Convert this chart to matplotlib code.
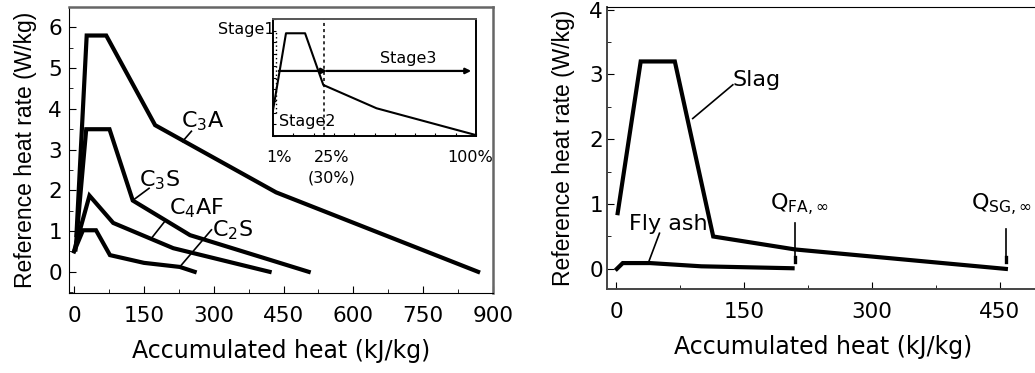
import matplotlib
matplotlib.use("Agg")
import matplotlib.pyplot as plt
from matplotlib.ticker import MultipleLocator

plt.rcParams['font.family'] = ['DejaVu Sans']

# left panel: clinker minerals (accumulated heat kJ/kg, heat rate W/kg)
c3a_q = [5, 27, 69, 174, 434, 868]
c3a_r = [0.9, 5.8, 5.8, 3.6, 1.95, 0.0]
c3s_q = [3, 26, 76, 126, 249, 504]
c3s_r = [0.55, 3.5, 3.5, 1.75, 0.9, 0.0]
c4af_q = [1, 33, 84, 213, 420]
c4af_r = [0.55, 1.87, 1.2, 0.58, 0.0]
c2s_q = [0, 19, 47, 77, 150, 227, 259]
c2s_r = [0.5, 1.02, 1.02, 0.41, 0.22, 0.12, 0.0]

# inset: normalised stage sketch (fraction of Q, fraction of height)
stage_x = [0.0, 0.064, 0.158, 0.248, 0.51, 0.995]
stage_y = [0.22, 0.878, 0.878, 0.436, 0.237, 0.01]

# right panel: slag and fly ash
slag_q = [2, 29, 69, 114, 210, 457]
slag_r = [0.86, 3.2, 3.2, 0.5, 0.3, 0.0]
fa_q = [1, 8, 40, 100, 207]
fa_r = [0.0, 0.09, 0.09, 0.04, 0.01]
q_fa = 210
q_sg = 457

W, H = 1035, 373
fig = plt.figure(figsize=(W / 100, H / 100), dpi=100)

def box(x0, x1, y0, y1):
    return [x0 / W, 1 - y1 / H, (x1 - x0) / W, (y1 - y0) / H]

lw = 3.0
lead = dict(color='black', lw=1.2)

# ---------------- left panel ----------------
ax1 = fig.add_axes(box(69, 493, 7, 293))
for q, r in [(c3a_q, c3a_r), (c3s_q, c3s_r), (c4af_q, c4af_r), (c2s_q, c2s_r)]:
    ax1.plot(q, r, color='black', lw=lw, solid_joinstyle='miter')
ax1.set_xlim(-11, 900)
ax1.set_ylim(-0.52, 6.5)
ax1.set_xticks([0, 150, 300, 450, 600, 750, 900])
ax1.set_yticks([0, 1, 2, 3, 4, 5, 6])
ax1.xaxis.set_minor_locator(MultipleLocator(75))
ax1.yaxis.set_minor_locator(MultipleLocator(0.5))
ax1.tick_params(which='both', direction='in', top=False, right=False)
ax1.tick_params(which='major', length=5, labelsize=15.5)
ax1.tick_params(which='minor', length=3)
ax1.tick_params(axis='x', pad=9)
ax1.tick_params(axis='y', pad=5)
for s in ['top', 'right']:
    ax1.spines[s].set_color('#666666')
    ax1.spines[s].set_linewidth(1.8)
ax1.set_xlabel('Accumulated heat (kJ/kg)', fontsize=17, labelpad=10)
ax1.set_ylabel('Reference heat rate (W/kg)', fontsize=16.5, family='Liberation Sans', labelpad=8)

ax1.text(276, 3.69, r'C$_3$A', fontsize=16, ha='center', va='center')
ax1.plot([252, 233], [3.45, 3.2], **lead)
ax1.text(184, 2.26, r'C$_3$S', fontsize=16, ha='center', va='center')
ax1.plot([161, 128], [2.05, 1.77], **lead)
ax1.text(262, 1.57, r'C$_4$AF', fontsize=16, ha='center', va='center')
ax1.plot([197, 168], [1.27, 0.85], **lead)
ax1.text(340, 1.03, r'C$_2$S', fontsize=16, ha='center', va='center')
ax1.plot([295, 227], [1.03, 0.12], **lead)

# ---------------- inset ----------------
ins = fig.add_axes(box(273, 476, 19, 136))
ins.plot(stage_x, stage_y, color='black', lw=1.5)
ins.set_xlim(0, 1)
ins.set_ylim(0, 1)
ins.axvline(0.251, color='black', lw=1.1, ls=(0, (2, 2)))
ins.plot([0.015, 0.015], [0.2, 0.9], color='black', lw=1.0, ls=(0, (1, 2)))
ins.annotate('', xy=(0.28, 0.556), xytext=(0.015, 0.556),
             arrowprops=dict(arrowstyle='-|>', color='black', lw=1.6, mutation_scale=8))
ins.annotate('', xy=(0.99, 0.556), xytext=(0.25, 0.556),
             arrowprops=dict(arrowstyle='-|>', color='black', lw=1.6, mutation_scale=8))
ins.set_xticks([i / 10 for i in range(11)])
ins.set_yticks([i / 10 for i in range(11)])
ins.tick_params(direction='in', length=2, labelbottom=False, labelleft=False)
for s in ins.spines.values():
    s.set_linewidth(1.4)
ins.spines['top'].set_color('#555555')
ins.text(0.03, 0.12, 'Stage2', fontsize=11.5, ha='left', va='center', transform=ins.transAxes)
ins.text(0.667, 0.66, 'Stage3', fontsize=11.5, ha='center', va='center', transform=ins.transAxes)
ins.text(0.01, 0.91, 'Stage1', fontsize=11.5, ha='right', va='center', transform=ins.transAxes, clip_on=False)
ins.text(0.03, -0.18, '1%', fontsize=11.5, ha='center', va='center', transform=ins.transAxes)
ins.text(0.29, -0.18, '25%', fontsize=11.5, ha='center', va='center', transform=ins.transAxes)
ins.text(0.29, -0.36, '(30%)', fontsize=11.5, ha='center', va='center', transform=ins.transAxes)
ins.text(0.97, -0.18, '100%', fontsize=11.5, ha='center', va='center', transform=ins.transAxes)

# ---------------- right panel ----------------
ax2 = fig.add_axes(box(607, 1040, 7, 289))
ax2.plot(slag_q, slag_r, color='black', lw=lw, solid_joinstyle='miter')
ax2.plot(fa_q, fa_r, color='black', lw=lw, solid_joinstyle='miter')
ax2.set_xlim(-10.5, 497)
ax2.set_ylim(-0.31, 4.04)
ax2.set_xticks([0, 150, 300, 450])
ax2.set_yticks([0, 1, 2, 3, 4])
ax2.xaxis.set_minor_locator(MultipleLocator(75))
ax2.yaxis.set_minor_locator(MultipleLocator(0.5))
ax2.tick_params(which='both', direction='in')
ax2.tick_params(which='major', length=5, labelsize=15.5)
ax2.tick_params(which='minor', length=3)
ax2.tick_params(axis='x', pad=9)
ax2.tick_params(axis='y', pad=3)
for s in ['left', 'bottom']:
    ax2.spines[s].set_color('#444444')
    ax2.spines[s].set_linewidth(1.4)
ax2.set_xlabel('Accumulated heat (kJ/kg)', fontsize=17, labelpad=10)
ax2.set_ylabel('Reference heat rate (W/kg)', fontsize=16.5, family='Liberation Sans', labelpad=10)

ax2.text(165, 2.91, 'Slag', fontsize=16, ha='center', va='center')
ax2.plot([137, 90], [2.84, 2.32], **lead)
ax2.text(61, 0.7, 'Fly ash', fontsize=16, ha='center', va='center')
ax2.plot([51, 39], [0.55, 0.13], **lead)
ax2.text(215, 0.99, r'Q$_{\mathrm{FA,\infty}}$', fontsize=16, ha='center', va='center')
ax2.plot([q_fa, q_fa], [0.71, 0.2], color='black', lw=1.2)
ax2.plot([q_fa, q_fa], [0.18, 0.11], color='black', lw=2.4)
ax2.text(452, 0.99, r'Q$_{\mathrm{SG,\infty}}$', fontsize=16, ha='center', va='center')
ax2.plot([q_sg, q_sg], [0.62, 0.2], color='black', lw=1.2)
ax2.plot([q_sg, q_sg], [0.18, 0.1], color='black', lw=2.4)

fig.savefig('out.png', dpi=100)
